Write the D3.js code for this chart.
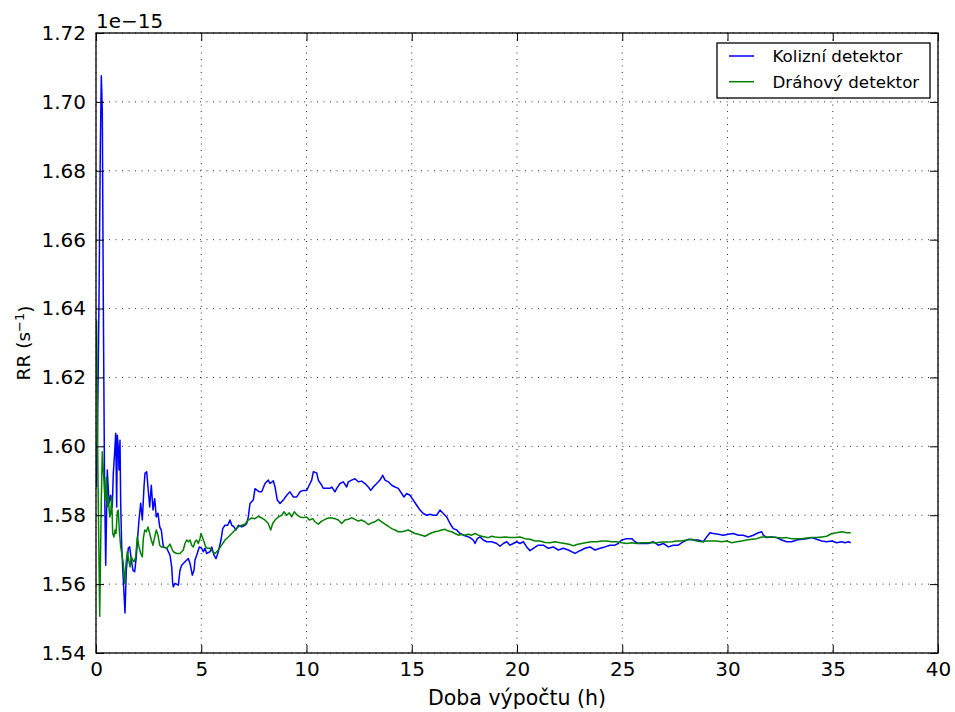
<!DOCTYPE html>
<html>
<head>
<meta charset="utf-8">
<script src="https://cdn.jsdelivr.net/npm/d3@7"></script>
<style>
  body { margin: 0; background: #fff; }
  svg { display: block; }
  text { font-family: "DejaVu Sans", "Liberation Sans", sans-serif; fill: #000; }
</style>
</head>
<body>
<svg id="chart" width="955" height="712"></svg>
<script>
// Axis ticks
const xTicks = [0, 5, 10, 15, 20, 25, 30, 35, 40];
const yTicks = [1.54, 1.56, 1.58, 1.60, 1.62, 1.64, 1.66, 1.68, 1.70, 1.72];

// Series labels
const seriesNames = ["Kolizní detektor", "Dráhový detektor"];
const seriesColors = ["#0000ff", "#008000"];

// Reaction rate (×1e-15 s^-1) vs computation time (h) – collision detector
const kolizni = [
  [0.024,1.5881],[0.071,1.6047],[0.143,1.6424],[0.204,1.6859],[0.252,1.7076],[0.299,1.6975],[0.347,1.6424],[0.404,1.5902],
  [0.461,1.5655],[0.537,1.5931],[0.618,1.5835],[0.698,1.5858],[0.774,1.5824],[0.822,1.5922],[0.888,1.5984],[0.936,1.6038],
  [0.983,1.5824],[1.012,1.6032],[1.059,1.5998],[1.093,1.5931],[1.140,1.6018],[1.173,1.5835],[1.221,1.5708],[1.297,1.5612],
  [1.378,1.5516],[1.439,1.5640],[1.534,1.5704],[1.601,1.5708],[1.677,1.5670],[1.758,1.5640],[1.838,1.5636],[1.914,1.5679],
  [1.981,1.5737],[2.043,1.5786],[2.124,1.5835],[2.200,1.5786],[2.280,1.5882],[2.328,1.5922],[2.409,1.5926],[2.470,1.5882],
  [2.551,1.5824],[2.627,1.5887],[2.708,1.5815],[2.789,1.5848],[2.865,1.5795],[2.945,1.5806],[3.026,1.5766],[3.102,1.5757],
  [3.197,1.5708],[3.359,1.5704],[3.515,1.5684],[3.596,1.5650],[3.644,1.5602],[3.672,1.5592],[3.753,1.5602],[3.910,1.5597],
  [3.990,1.5640],[4.071,1.5655],[4.228,1.5665],[4.385,1.5674],[4.466,1.5660],[4.575,1.5626],[4.656,1.5640],[4.703,1.5670],
  [4.784,1.5684],[4.907,1.5708],[5.021,1.5704],[5.097,1.5694],[5.178,1.5704],[5.259,1.5689],[5.416,1.5694],[5.496,1.5708],
  [5.606,1.5684],[5.701,1.5674],[5.810,1.5694],[5.938,1.5728],[6.019,1.5761],[6.128,1.5771],[6.257,1.5771],[6.366,1.5786],
  [6.447,1.5771],[6.556,1.5766],[6.651,1.5757],[6.760,1.5771],[6.922,1.5766],[7.078,1.5771],[7.159,1.5776],[7.235,1.5795],
  [7.316,1.5834],[7.473,1.5844],[7.553,1.5877],[7.663,1.5872],[7.758,1.5868],[7.872,1.5868],[8.029,1.5892],[8.185,1.5902],
  [8.266,1.5892],[8.423,1.5900],[8.504,1.5882],[8.613,1.5844],[8.741,1.5834],[8.898,1.5844],[9.059,1.5858],[9.216,1.5868],
  [9.373,1.5853],[9.534,1.5853],[9.691,1.5868],[9.848,1.5872],[10.009,1.5872],[10.086,1.5882],[10.247,1.5902],[10.323,1.5926],
  [10.485,1.5923],[10.561,1.5902],[10.722,1.5887],[10.798,1.5878],[10.960,1.5878],[11.116,1.5878],[11.197,1.5882],[11.354,1.5868],
  [11.435,1.5878],[11.591,1.5892],[11.748,1.5897],[11.910,1.5882],[11.986,1.5897],[12.147,1.5902],[12.304,1.5906],[12.461,1.5897],
  [12.622,1.5899],[12.779,1.5892],[12.936,1.5882],[13.050,1.5872],[13.173,1.5882],[13.335,1.5892],[13.492,1.5902],[13.620,1.5916],
  [13.729,1.5902],[13.886,1.5897],[14.048,1.5887],[14.204,1.5882],[14.361,1.5878],[14.523,1.5863],[14.632,1.5853],[14.760,1.5863],
  [14.917,1.5858],[15.074,1.5844],[15.235,1.5829],[15.392,1.5815],[15.549,1.5805],[15.710,1.5800],[15.867,1.5803],[16.024,1.5800],
  [16.185,1.5800],[16.342,1.5815],[16.499,1.5805],[16.660,1.5795],[16.817,1.5776],[16.974,1.5761],[17.135,1.5757],[17.292,1.5747],
  [17.449,1.5742],[17.610,1.5739],[17.767,1.5735],[17.924,1.5728],[18.005,1.5718],[18.114,1.5732],[18.242,1.5737],[18.399,1.5728],
  [18.561,1.5723],[18.798,1.5723],[19.036,1.5718],[19.192,1.5710],[19.349,1.5718],[19.511,1.5723],[19.667,1.5713],[19.824,1.5718],
  [19.986,1.5723],[20.143,1.5718],[20.299,1.5723],[20.461,1.5708],[20.618,1.5697],[20.774,1.5704],[21.012,1.5713],[21.249,1.5713],
  [21.487,1.5704],[21.724,1.5708],[21.962,1.5699],[22.200,1.5704],[22.437,1.5699],[22.755,1.5689],[22.993,1.5697],[23.230,1.5704],
  [23.468,1.5708],[23.705,1.5699],[23.943,1.5704],[24.181,1.5708],[24.418,1.5713],[24.656,1.5713],[24.812,1.5718],[24.974,1.5728],
  [25.211,1.5732],[25.449,1.5732],[25.606,1.5723],[25.763,1.5718],[26.000,1.5718],[26.238,1.5718],[26.475,1.5723],[26.713,1.5713],
  [26.950,1.5718],[27.188,1.5708],[27.425,1.5713],[27.663,1.5713],[27.900,1.5723],[28.138,1.5730],[28.375,1.5728],[28.613,1.5728],
  [28.850,1.5723],[29.012,1.5737],[29.169,1.5749],[29.325,1.5747],[29.563,1.5745],[29.800,1.5742],[30.038,1.5745],[30.276,1.5747],
  [30.513,1.5742],[30.751,1.5742],[30.988,1.5737],[31.226,1.5742],[31.463,1.5749],[31.625,1.5752],[31.701,1.5742],[31.862,1.5735],
  [32.100,1.5737],[32.337,1.5735],[32.575,1.5728],[32.812,1.5723],[33.050,1.5723],[33.287,1.5728],[33.525,1.5730],[33.762,1.5732],
  [34.000,1.5735],[34.238,1.5730],[34.475,1.5725],[34.713,1.5723],[34.950,1.5725],[35.188,1.5720],[35.425,1.5723],[35.582,1.5720],
  [35.739,1.5723],[35.853,1.5720]
];

// Reaction rate (×1e-15 s^-1) vs computation time (h) – track-length detector
const drahovy = [
  [0.024,1.6366],[0.095,1.5902],[0.176,1.5507],[0.252,1.5844],[0.299,1.5984],[0.347,1.5931],[0.380,1.5902],[0.428,1.5844],
  [0.489,1.5911],[0.537,1.5824],[0.584,1.5853],[0.651,1.5795],[0.698,1.5805],[0.746,1.5853],[0.793,1.5747],[0.855,1.5737],
  [0.903,1.5757],[0.950,1.5747],[1.012,1.5810],[1.059,1.5815],[1.107,1.5757],[1.173,1.5708],[1.249,1.5679],[1.297,1.5660],
  [1.363,1.5602],[1.425,1.5660],[1.487,1.5694],[1.553,1.5670],[1.615,1.5650],[1.677,1.5679],[1.743,1.5670],[1.805,1.5665],
  [1.886,1.5679],[1.962,1.5737],[2.043,1.5708],[2.124,1.5689],[2.200,1.5679],[2.247,1.5732],[2.314,1.5757],[2.390,1.5752],
  [2.470,1.5766],[2.551,1.5747],[2.627,1.5728],[2.708,1.5713],[2.789,1.5737],[2.865,1.5757],[2.945,1.5742],[3.026,1.5713],
  [3.102,1.5708],[3.197,1.5708],[3.359,1.5704],[3.515,1.5716],[3.596,1.5704],[3.672,1.5694],[3.834,1.5689],[3.990,1.5689],
  [4.071,1.5694],[4.147,1.5699],[4.228,1.5718],[4.309,1.5728],[4.385,1.5723],[4.466,1.5728],[4.546,1.5713],[4.622,1.5708],
  [4.703,1.5723],[4.784,1.5728],[4.860,1.5718],[4.941,1.5732],[4.988,1.5747],[5.050,1.5737],[5.131,1.5723],[5.211,1.5708],
  [5.287,1.5704],[5.416,1.5704],[5.544,1.5694],[5.653,1.5689],[5.810,1.5699],[5.971,1.5713],[6.128,1.5728],[6.285,1.5737],
  [6.447,1.5747],[6.603,1.5757],[6.760,1.5766],[6.922,1.5771],[7.078,1.5774],[7.235,1.5786],[7.397,1.5792],[7.553,1.5790],
  [7.710,1.5797],[7.872,1.5792],[8.029,1.5786],[8.185,1.5776],[8.299,1.5757],[8.394,1.5776],[8.504,1.5786],[8.660,1.5795],
  [8.822,1.5800],[8.931,1.5810],[9.059,1.5800],[9.183,1.5807],[9.297,1.5795],[9.420,1.5810],[9.563,1.5800],[9.691,1.5795],
  [9.848,1.5793],[10.009,1.5795],[10.133,1.5786],[10.295,1.5790],[10.404,1.5781],[10.561,1.5774],[10.722,1.5783],[10.879,1.5788],
  [11.036,1.5792],[11.197,1.5792],[11.354,1.5790],[11.511,1.5786],[11.672,1.5776],[11.829,1.5786],[11.986,1.5788],[12.147,1.5793],
  [12.304,1.5788],[12.461,1.5783],[12.622,1.5786],[12.779,1.5781],[12.936,1.5773],[13.097,1.5778],[13.254,1.5781],[13.411,1.5788],
  [13.572,1.5781],[13.729,1.5774],[13.886,1.5768],[14.048,1.5761],[14.204,1.5757],[14.361,1.5752],[14.523,1.5752],[14.679,1.5754],
  [14.836,1.5757],[14.998,1.5752],[15.154,1.5747],[15.311,1.5745],[15.473,1.5742],[15.629,1.5739],[15.786,1.5744],[15.948,1.5749],
  [16.105,1.5752],[16.261,1.5754],[16.423,1.5757],[16.580,1.5759],[16.736,1.5754],[16.898,1.5752],[17.055,1.5747],[17.211,1.5742],
  [17.373,1.5745],[17.530,1.5742],[17.686,1.5745],[17.848,1.5742],[18.005,1.5747],[18.162,1.5742],[18.323,1.5739],[18.480,1.5737],
  [18.637,1.5735],[18.798,1.5739],[18.955,1.5737],[19.192,1.5735],[19.430,1.5737],[19.667,1.5735],[19.905,1.5735],[20.143,1.5737],
  [20.380,1.5732],[20.618,1.5730],[20.855,1.5725],[21.093,1.5725],[21.330,1.5721],[21.568,1.5720],[21.805,1.5723],[22.043,1.5720],
  [22.280,1.5718],[22.518,1.5715],[22.675,1.5711],[22.836,1.5715],[23.074,1.5718],[23.311,1.5721],[23.549,1.5723],[23.786,1.5723],
  [24.024,1.5725],[24.261,1.5725],[24.499,1.5723],[24.736,1.5723],[24.974,1.5720],[25.211,1.5718],[25.449,1.5720],[25.686,1.5718],
  [25.924,1.5720],[26.162,1.5720],[26.399,1.5721],[26.637,1.5720],[26.874,1.5722],[27.112,1.5722],[27.349,1.5723],[27.587,1.5725],
  [27.824,1.5725],[28.062,1.5728],[28.299,1.5730],[28.537,1.5725],[28.774,1.5723],[29.012,1.5725],[29.249,1.5725],[29.487,1.5725],
  [29.724,1.5723],[29.962,1.5725],[30.200,1.5720],[30.437,1.5723],[30.675,1.5725],[30.912,1.5728],[31.150,1.5730],[31.387,1.5732],
  [31.625,1.5737],[31.862,1.5737],[32.100,1.5737],[32.337,1.5735],[32.575,1.5734],[32.812,1.5735],[33.050,1.5732],[33.287,1.5732],
  [33.525,1.5732],[33.762,1.5734],[34.000,1.5735],[34.238,1.5735],[34.475,1.5737],[34.713,1.5739],[34.950,1.5747],[35.188,1.5749],
  [35.425,1.5752],[35.663,1.5749],[35.853,1.5749]
];

const svg = d3.select("#chart");
const plot = { left: 96, right: 938, top: 33, bottom: 653 };

const x = d3.scaleLinear().domain([0, 40]).range([plot.left, plot.right]);
const y = d3.scaleLinear().domain([1.54, 1.72]).range([plot.bottom, plot.top]);

// Dotted grid
const grid = svg.append("g").attr("stroke", "#000").attr("stroke-width", 1)
  .attr("stroke-dasharray", "1,5.5").attr("opacity", 0.8);
grid.selectAll(".gx").data(xTicks).join("line")
  .attr("x1", d => x(d)).attr("x2", d => x(d))
  .attr("y1", plot.top).attr("y2", plot.bottom);
grid.selectAll(".gy").data(yTicks).join("line")
  .attr("x1", plot.left).attr("x2", plot.right)
  .attr("y1", d => y(d)).attr("y2", d => y(d));

// Data lines
svg.append("clipPath").attr("id", "clip").append("rect")
  .attr("x", plot.left).attr("y", plot.top)
  .attr("width", plot.right - plot.left).attr("height", plot.bottom - plot.top);

const line = d3.line().x(d => x(d[0])).y(d => y(d[1]));
const lines = svg.append("g").attr("clip-path", "url(#clip)");
[kolizni, drahovy].forEach((series, i) => {
  lines.append("path").datum(series)
    .attr("d", line)
    .attr("fill", "none")
    .attr("stroke", seriesColors[i])
    .attr("stroke-width", 1.5)
    .attr("stroke-linejoin", "round");
});

// Axes with inward ticks on all four sides
const tickLen = 8;
const fmtY = d3.format(".2f");
function styleAxis(g) {
  g.select(".domain").remove();
  g.selectAll(".tick line").attr("stroke", "#000").attr("stroke-width", 1);
  g.selectAll(".tick text").style("font-size", "20px").style("font-family", "DejaVu Sans");
}
svg.append("g").attr("transform", `translate(0,${plot.bottom})`)
  .call(d3.axisBottom(x).tickValues(xTicks).tickSize(-tickLen).tickPadding(9).tickFormat(d3.format("d")))
  .call(styleAxis);
svg.append("g").attr("transform", `translate(0,${plot.top})`)
  .call(d3.axisTop(x).tickValues(xTicks).tickSize(-tickLen).tickFormat(""))
  .call(styleAxis);
svg.append("g").attr("transform", `translate(${plot.left},0)`)
  .call(d3.axisLeft(y).tickValues(yTicks).tickSize(-tickLen).tickPadding(10).tickFormat(fmtY))
  .call(styleAxis);
svg.append("g").attr("transform", `translate(${plot.right},0)`)
  .call(d3.axisRight(y).tickValues(yTicks).tickSize(-tickLen).tickFormat(""))
  .call(styleAxis);

// Frame
svg.append("rect")
  .attr("x", plot.left).attr("y", plot.top)
  .attr("width", plot.right - plot.left).attr("height", plot.bottom - plot.top)
  .attr("fill", "none").attr("stroke", "#000").attr("stroke-width", 1.3);

// Scale factor text
svg.append("text").attr("x", plot.left).attr("y", 28)
  .style("font-size", "20px").text("1e\u221215");

// Axis titles
svg.append("text")
  .attr("x", (plot.left + plot.right) / 2).attr("y", 705)
  .attr("text-anchor", "middle").style("font-size", "20.5px")
  .text("Doba výpočtu (h)");

const yl = svg.append("text")
  .attr("transform", `translate(30,${(plot.top + plot.bottom) / 2}) rotate(-90)`)
  .attr("text-anchor", "middle").style("font-size", "18.5px");
yl.append("tspan").text("RR (s");
yl.append("tspan").attr("dy", "-0.45em").style("font-size", "13px").text("\u22121");
yl.append("tspan").attr("dy", "0.45em").text(")");

// Legend
const legend = svg.append("g");
legend.append("rect")
  .attr("x", 717).attr("y", 43).attr("width", 213).attr("height", 55)
  .attr("fill", "#fff").attr("stroke", "#000").attr("stroke-width", 1.3);
seriesNames.forEach((name, i) => {
  const cy = 56 + i * 25.7;
  legend.append("line")
    .attr("x1", 729).attr("x2", 754).attr("y1", cy).attr("y2", cy)
    .attr("stroke", seriesColors[i]).attr("stroke-width", 1.5);
  legend.append("text")
    .attr("x", 772.5).attr("y", cy + 6)
    .style("font-size", "16.7px").text(name);
});
</script>
</body>
</html>
